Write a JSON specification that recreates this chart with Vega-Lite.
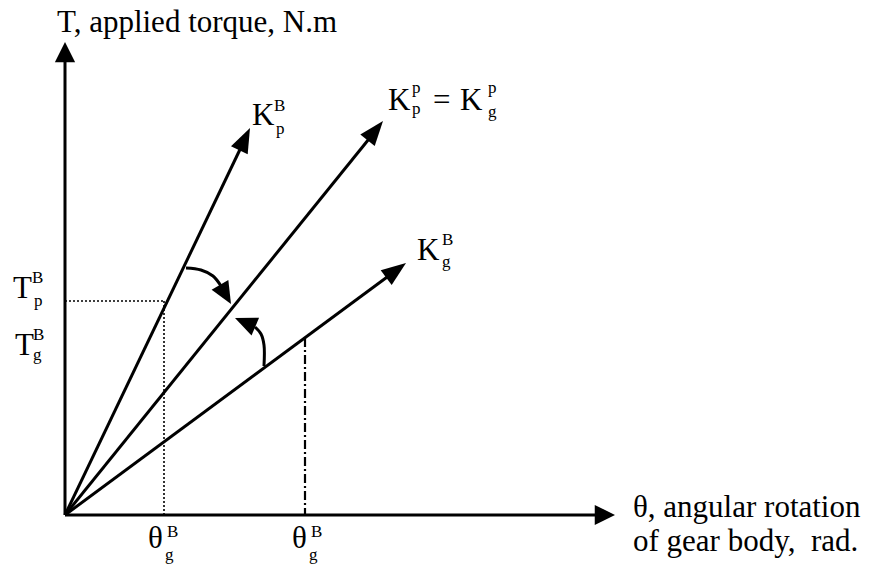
{
  "$schema": "https://vega.github.io/schema/vega-lite/v6.json",
  "width": 879,
  "height": 569,
  "padding": 0,
  "autosize": {"type": "none"},
  "background": "white",
  "config": {"view": {"stroke": null}},
  "datasets": {
    "solid": [
      {"seg": "yaxis", "i": 0, "x": 0, "y": 0},
      {"seg": "yaxis", "i": 1, "x": 0, "y": 456},
      {"seg": "xaxis", "i": 0, "x": 0, "y": 0},
      {"seg": "xaxis", "i": 1, "x": 533, "y": 0},
      {"seg": "KpB", "i": 0, "x": 0, "y": 0},
      {"seg": "KpB", "i": 1, "x": 180, "y": 376},
      {"seg": "Kpp", "i": 0, "x": 0, "y": 0},
      {"seg": "Kpp", "i": 1, "x": 312, "y": 386},
      {"seg": "KgB", "i": 0, "x": 0, "y": 0},
      {"seg": "KgB", "i": 1, "x": 333, "y": 246}
    ],
    "curves": [
      {"seg": "up", "i": 0, "x": 121, "y": 247},
      {"seg": "up", "i": 1, "x": 136, "y": 245},
      {"seg": "up", "i": 2, "x": 148, "y": 239},
      {"seg": "up", "i": 3, "x": 156, "y": 229},
      {"seg": "low", "i": 0, "x": 199, "y": 149},
      {"seg": "low", "i": 1, "x": 199, "y": 170},
      {"seg": "low", "i": 2, "x": 196, "y": 181},
      {"seg": "low", "i": 3, "x": 190, "y": 188}
    ],
    "dotted": [
      {"seg": "h", "i": 0, "x": 0, "y": 214},
      {"seg": "h", "i": 1, "x": 99, "y": 214},
      {"seg": "v", "i": 0, "x": 99, "y": 214},
      {"seg": "v", "i": 1, "x": 99, "y": 0}
    ],
    "dashdot": [
      {"seg": "d", "i": 0, "x": 240, "y": 177},
      {"seg": "d", "i": 1, "x": 240, "y": 0}
    ],
    "headsK": [
      {"x": 185, "y": 387, "angle": 25.6},
      {"x": 318, "y": 394, "angle": 38.9},
      {"x": 341, "y": 252, "angle": 53.5}
    ],
    "headsAxis": [
      {"x": 0, "y": 473, "angle": 0},
      {"x": 550, "y": 0, "angle": 90}
    ],
    "headsCurve": [
      {"x": 166, "y": 211, "angle": 150},
      {"x": 170, "y": 197, "angle": 293}
    ],
    "labels": [
      {"x": -8, "y": 483, "text": "T, applied torque, N.m"},
      {"x": 568, "y": -2, "text": "θ, angular rotation"},
      {"x": 568, "y": -36, "text": "of gear body,\u00a0 rad."},
      {"x": 187, "y": 390, "text": "K"},
      {"x": 323, "y": 405, "text": "K"},
      {"x": 368, "y": 405, "text": "="},
      {"x": 395, "y": 405, "text": "K"},
      {"x": 352, "y": 255, "text": "K"},
      {"x": -52, "y": 217, "text": "T"},
      {"x": -50, "y": 160, "text": "T"},
      {"x": 83, "y": -33, "text": "θ"},
      {"x": 227, "y": -33, "text": "θ"}
    ],
    "scripts": [
      {"x": 209, "y": 404, "text": "B"},
      {"x": 211, "y": 381, "text": "p"},
      {"x": 347, "y": 422, "text": "p"},
      {"x": 347, "y": 401, "text": "p"},
      {"x": 423, "y": 422, "text": "p"},
      {"x": 423, "y": 398, "text": "g"},
      {"x": 377, "y": 270, "text": "B"},
      {"x": 377, "y": 248, "text": "g"},
      {"x": -33, "y": 232, "text": "B"},
      {"x": -31, "y": 209, "text": "p"},
      {"x": -32, "y": 175, "text": "B"},
      {"x": -32, "y": 155, "text": "g"},
      {"x": 102, "y": -22, "text": "B"},
      {"x": 100, "y": -45, "text": "g"},
      {"x": 246, "y": -22, "text": "B"},
      {"x": 244, "y": -45, "text": "g"}
    ]
  },
  "encoding": {
    "x": {"field": "x", "type": "quantitative", "axis": null, "scale": {"domain": [-65, 814], "nice": false, "zero": false}},
    "y": {"field": "y", "type": "quantitative", "axis": null, "scale": {"domain": [-54, 515], "nice": false, "zero": false}}
  },
  "layer": [
    {
      "data": {"name": "solid"},
      "mark": {"type": "line", "color": "black", "strokeWidth": 3, "strokeCap": "butt"},
      "encoding": {"detail": {"field": "seg"}, "order": {"field": "i", "type": "quantitative"}}
    },
    {
      "data": {"name": "curves"},
      "mark": {"type": "line", "color": "black", "strokeWidth": 3, "interpolate": "catmull-rom"},
      "encoding": {"detail": {"field": "seg"}, "order": {"field": "i", "type": "quantitative"}}
    },
    {
      "data": {"name": "dotted"},
      "mark": {"type": "line", "color": "black", "strokeWidth": 1.6, "strokeDash": [2, 2]},
      "encoding": {"detail": {"field": "seg"}, "order": {"field": "i", "type": "quantitative"}}
    },
    {
      "data": {"name": "dashdot"},
      "mark": {"type": "line", "color": "black", "strokeWidth": 2.2, "strokeDash": [9, 3, 2, 3]},
      "encoding": {"detail": {"field": "seg"}, "order": {"field": "i", "type": "quantitative"}}
    },
    {
      "data": {"name": "headsK"},
      "mark": {"type": "point", "shape": "M0,0L0.6,1.6L-0.6,1.6Z", "filled": true, "color": "black", "opacity": 1, "size": 950, "strokeWidth": 0},
      "encoding": {"angle": {"field": "angle", "type": "quantitative", "scale": null}}
    },
    {
      "data": {"name": "headsAxis"},
      "mark": {"type": "point", "shape": "M0,0L0.8,1.6L-0.8,1.6Z", "filled": true, "color": "black", "opacity": 1, "size": 640, "strokeWidth": 0},
      "encoding": {"angle": {"field": "angle", "type": "quantitative", "scale": null}}
    },
    {
      "data": {"name": "headsCurve"},
      "mark": {"type": "point", "shape": "M0,0L0.7,1.6L-0.7,1.6Z", "filled": true, "color": "black", "opacity": 1, "size": 760, "strokeWidth": 0},
      "encoding": {"angle": {"field": "angle", "type": "quantitative", "scale": null}}
    },
    {
      "data": {"name": "labels"},
      "mark": {"type": "text", "font": "Liberation Serif", "fontSize": 31, "align": "left", "baseline": "alphabetic", "color": "black"},
      "encoding": {"text": {"field": "text"}}
    },
    {
      "data": {"name": "scripts"},
      "mark": {"type": "text", "font": "Liberation Serif", "fontSize": 17, "align": "left", "baseline": "alphabetic", "color": "black"},
      "encoding": {"text": {"field": "text"}}
    }
  ]
}
